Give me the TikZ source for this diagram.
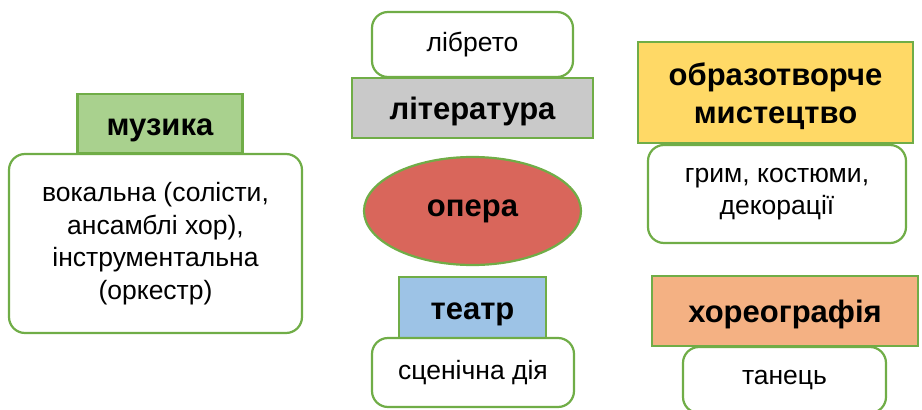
\documentclass[tikz,border=0pt]{standalone}
\usepackage{fontspec}
\setmainfont{Liberation Sans}
\usepackage{xcolor}
\usetikzlibrary{shapes.geometric}

\definecolor{boxline}{HTML}{70AD47}
\definecolor{musicfill}{HTML}{A9D18E}
\definecolor{litfill}{HTML}{C9C9C9}
\definecolor{operafill}{HTML}{D9665B}
\definecolor{theatrefill}{HTML}{9DC3E6}
\definecolor{artfill}{HTML}{FFD966}
\definecolor{dancefill}{HTML}{F4B183}

\begin{document}
\begin{tikzpicture}[x=1pt, y=-1pt]
    \tikzstyle{head} = [rectangle, draw=boxline, line width=2.2pt, inner sep=0pt,
        font=\fontsize{31}{38}\selectfont\bfseries, text height=24pt, text depth=1pt]
    \tikzstyle{body} = [rectangle, rounded corners=16pt, draw=boxline, fill=white, line width=2.2pt,
        inner sep=0pt, align=center, font=\fontsize{26.5}{32.5}\selectfont]
    \useasboundingbox (0,0) rectangle (922,410);
    \clip (0,0) rectangle (922,410);
    % left column
    \node[head, fill=musicfill, minimum width=165, minimum height=59] (music) at (160,123.5) {музика};
    \node[body, minimum width=293, minimum height=179] (musictext) at (155.5,243.5)
        {вокальна (солісти,\\ансамблі хор),\\інструментальна\\(оркестр)};
    % middle column
    \node[body, minimum width=201, minimum height=65] (libretto) at (472.5,44.5) {лібрето};
    \node[head, fill=litfill, minimum width=241, minimum height=60] (literature) at (472.5,108) {література};
    \node[ellipse, draw=boxline, fill=operafill, line width=2.2pt, minimum width=217, minimum height=108,
        font=\fontsize{31}{38}\selectfont\bfseries] (opera) at (472.5,211) {опера};
    \node[head, fill=theatrefill, minimum width=147, minimum height=61] (theatre) at (472.5,307.5) {театр\hspace{19pt}};
    \node[body, minimum width=202, minimum height=69] (action) at (473,372.5) {сценічна дія};
    % right column
    \node[head, fill=artfill, minimum width=275, minimum height=101, align=center,
        text height=62pt] (art) at (775.5,92.5) {образотворче\\мистецтво};
    \node[body, minimum width=258, minimum height=98] (makeup) at (777,194) {грим, костюми,\\декорації};
    \node[head, fill=dancefill, minimum width=266, minimum height=70] (choreo) at (785,311) {хореографія};
    \node[body, minimum width=203, minimum height=66] (dance) at (784.5,380) {танець};
\end{tikzpicture}
\end{document}
